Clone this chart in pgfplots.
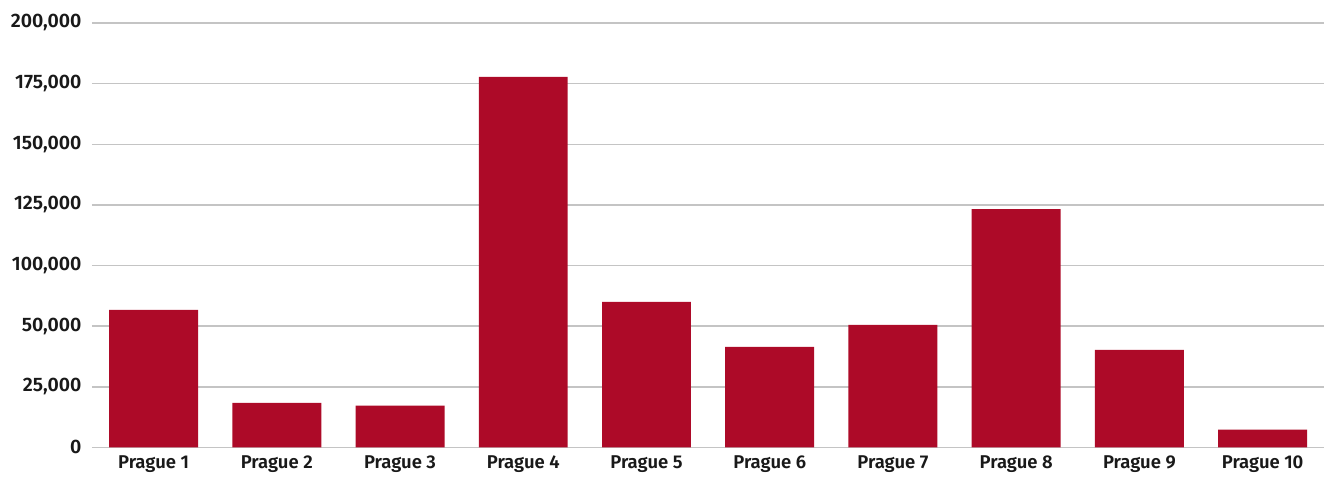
\documentclass[border=0pt]{standalone}
\usepackage{fontspec}
\setmainfont{Fira Sans}
\newfontfamily\labelfont{Fira Sans SemiBold}
\usepackage{pgfplots}
\pgfplotsset{compat=1.18}
\definecolor{barred}{HTML}{AD0A28}
\definecolor{gridgray}{HTML}{C4C4C4}

\begin{document}
\begin{tikzpicture}
\begin{axis}[
  scale only axis,
  width=1233pt, height=424.7pt,
  xmin=-0.5, xmax=9.5,
  ymin=0, ymax=175000,
  scaled y ticks=false,
  xtick={0,...,9},
  xticklabels={Prague 1,Prague 2,Prague 3,Prague 4,Prague 5,Prague 6,Prague 7,Prague 8,Prague 9,Prague 10},
  ytick={0,25000,50000,75000,100000,125000,150000,175000},
  yticklabels={0,{25,000},{50,000},{100,000},{125,000},{150,000},{175,000},{200,000}},
  ymajorgrids,
  grid style={gridgray, line width=1.5pt},
  axis line style={draw=none},
  major tick length=0pt,
  tick label style={text=black!90},
  yticklabel style={font=\labelfont\fontsize{19.5}{22}\selectfont, anchor=east, xshift=-7pt},
  xticklabel style={font=\labelfont\fontsize{18.5}{22}\selectfont, anchor=north, yshift=-5pt},
]
\addplot[ybar, bar width=0.722, fill=barred, draw=none] coordinates {
  (0,56700) (1,18400) (2,17200) (3,152800) (4,60000)
  (5,41500) (6,50500) (7,98300) (8,40200) (9,7300)
};
\end{axis}
\path (current axis.south west) ++(-92pt,-27.3pt) (current axis.north east) ++(0pt,23pt);
\end{tikzpicture}
\end{document}
